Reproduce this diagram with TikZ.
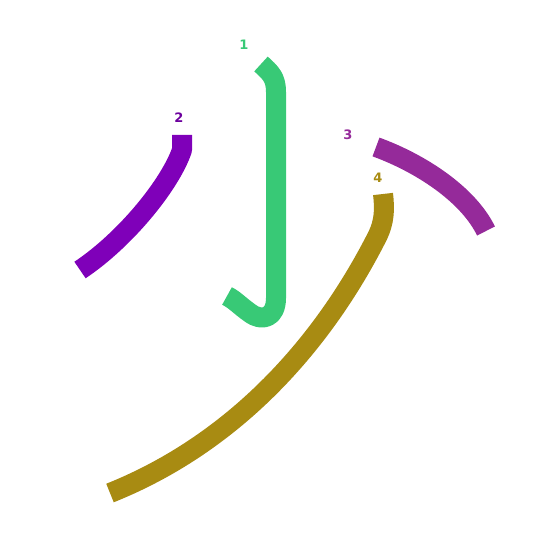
\documentclass[tikz,border=0pt]{standalone}
\usepackage{fontspec}
\setsansfont{DejaVu Sans}
\usepackage{tikz}
\definecolor{strokeone}{HTML}{38C976}
\definecolor{stroketwo}{HTML}{7F00B9}
\definecolor{strokethree}{HTML}{952A9A}
\definecolor{strokefour}{HTML}{A88B12}
\tikzset{
    kstroke/.style={line width=20pt, line cap=butt, line join=round},
    numlabel/.style={font=\sffamily\bfseries\fontsize{13}{13}\selectfont, inner sep=0pt}
}
\begin{document}
\begin{tikzpicture}[x=1pt, y=-1pt]
    \useasboundingbox (0,0) rectangle (545,545);
    \draw[kstroke, strokeone] (261,64) .. controls (271,73) and (276,78) .. (276,92)
        -- (276,298) .. controls (276,318) and (262,322) .. (250,313)
        .. controls (240,306) and (235,300) .. (227,296);
    \draw[kstroke, stroketwo] (182,135) -- (182,150) .. controls (170,185) and (125,240) .. (80,270);
    \draw[kstroke, strokethree] (376,147) .. controls (420,163) and (468,194) .. (486,231);
    \draw[kstroke, strokefour] (383,194) .. controls (385,210) and (384,222) .. (378,235)
        .. controls (320,350) and (230,445) .. (110,493);
    \node[numlabel, text=strokeone] (n1) at (244,45) {1};
    \node[numlabel, text=stroketwo!85!black] (n2) at (179,118) {2};
    \node[numlabel, text=strokethree] (n3) at (348,135) {3};
    \node[numlabel, text=strokefour] (n4) at (378,178) {4};
\end{tikzpicture}
\end{document}
